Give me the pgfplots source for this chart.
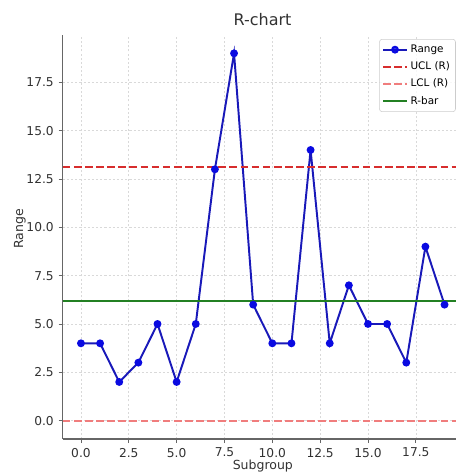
\documentclass[border=0pt]{standalone}
\usepackage{fontspec}
\setmainfont{DejaVu Sans}
\usepackage{pgfplots}
\pgfplotsset{compat=1.18}
\definecolor{rangeblue}{RGB}{25,25,185}
\definecolor{markblue}{RGB}{10,10,225}
\definecolor{uclred}{RGB}{215,45,45}
\definecolor{lclred}{RGB}{240,125,125}
\definecolor{rbargreen}{RGB}{35,128,35}
\definecolor{txt}{RGB}{50,50,50}
\pgfplotstableread{
x y
0 4
1 4
2 2
3 3
4 5
5 2
6 5
7 13
8 19
9 6
10 4
11 4
12 14
13 4
14 7
15 5
16 5
17 3
18 9
19 6
}\rangedata
\begin{document}
\begin{tikzpicture}
\useasboundingbox (0,0) rectangle (328.32pt,341.28pt);
\begin{axis}[
  at={(45.2pt,25.2pt)}, anchor=south west,
  scale only axis, width=283pt, height=290.9pt,
  xmin=-0.95, xmax=19.59, ymin=-0.95, ymax=19.95,
  axis x line*=bottom, axis y line*=left,
  axis line style={black!60, line width=0.9pt, -},
  xtick={0,2.5,...,17.5}, ytick={0,2.5,...,17.5},
  tick align=outside, major tick length=3pt,
  tick style={black!60, line width=0.6pt},
  /pgf/number format/.cd, fixed, fixed zerofill, precision=1, assume math mode=true,
  /pgfplots/.cd,
  ticklabel style={font=\fontsize{8.8}{10}\selectfont, text=txt},
  grid=major, grid style={dash pattern=on 1.5pt off 1.5pt, black!15, line width=0.5pt},
  xlabel={Subgroup}, ylabel={Range},
  label style={font=\fontsize{9}{11}\selectfont, text=txt},
  xlabel style={at={(axis description cs:0.509,0)}, anchor=base, yshift=-22.3pt},
  ylabel style={at={(axis description cs:-0.109,0.52)}, anchor=center, rotate=0},
  legend style={at={(0.805,0.99)}, anchor=north west, font=\fontsize{7.5}{9}\selectfont,
    draw=black!20, rounded corners=2pt, fill=white, fill opacity=0.8, text opacity=1,
    row sep=1.2pt, inner sep=2pt},
  legend cell align=left,
  legend image code/.code={\draw[mark repeat=2,mark phase=2,#1] plot coordinates {(0pt,0pt)(8.5pt,0pt)(17pt,0pt)};},
]
\addplot[rangeblue, line width=1.4pt, mark=*, mark size=2.1pt, mark options={fill=markblue, draw=markblue}] table[x=x,y=y]{\rangedata};
\addlegendentry{Range}
\addplot[uclred, line width=1.4pt, dash pattern=on 5.5pt off 2.5pt] coordinates {(-0.95,13.107) (19.59,13.107)};
\addlegendentry{UCL (R)}
\addplot[lclred, line width=1.4pt, dash pattern=on 5.5pt off 2.5pt] coordinates {(-0.95,0) (19.59,0)};
\addlegendentry{LCL (R)}
\addplot[rbargreen, line width=1.4pt] coordinates {(-0.95,6.2) (19.59,6.2)};
\addlegendentry{R-bar}
\end{axis}
\node[anchor=base, font=\fontsize{11.5}{13}\selectfont, text=txt] at (189pt,322.6pt) {R-chart};
\end{tikzpicture}
\end{document}
